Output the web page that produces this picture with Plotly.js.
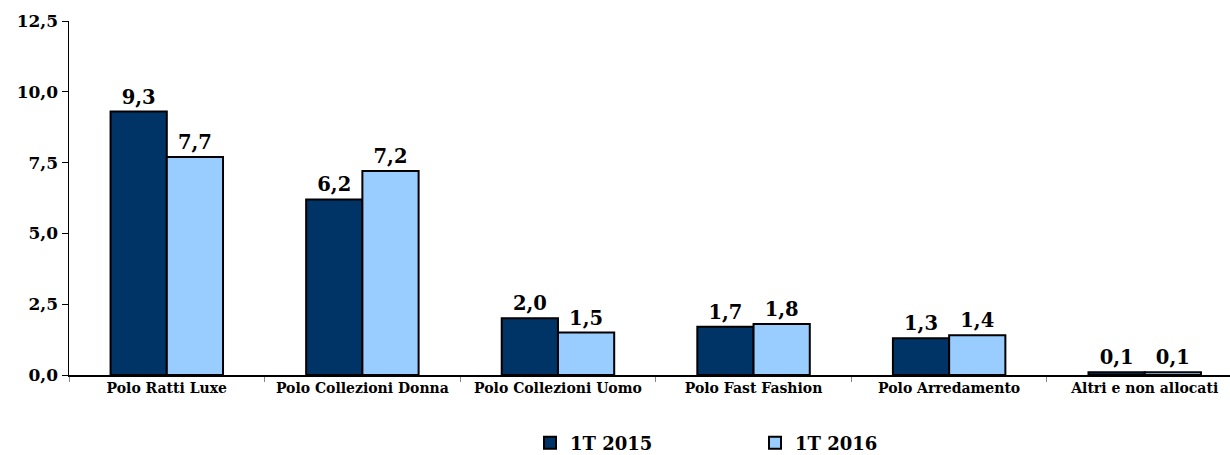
<!DOCTYPE html>
<html>
<head>
<meta charset="utf-8">
<script src="https://cdn.plot.ly/plotly-3.0.1.min.js"></script>
<style>html,body{margin:0;padding:0;background:#fff;}#chart{width:1230px;height:455px;}</style>
</head>
<body>
<div id="chart"></div>
<script>
const categories = ["Polo Ratti Luxe", "Polo Collezioni Donna", "Polo Collezioni Uomo", "Polo Fast Fashion", "Polo Arredamento", "Altri e non allocati"];
const values2015 = [9.3, 6.2, 2.0, 1.7, 1.3, 0.1];
const values2016 = [7.7, 7.2, 1.5, 1.8, 1.4, 0.1];
const seriesNames = ["1T 2015", "1T 2016"];
const yTicks = [0, 2.5, 5, 7.5, 10, 12.5];

const FONT = "DejaVu Serif, Liberation Serif, serif";

function barTrace(name, vals, color) {
  return {
    type: "bar",
    name: name,
    x: categories,
    y: vals,
    marker: {color: color, line: {color: "#000", width: 2}},
    texttemplate: "%{y:.1f}",
    textposition: "outside",
    cliponaxis: false,
    textfont: {family: FONT, size: 19.5, color: "#000", weight: "bold"},
    hoverinfo: "none"
  };
}

const data = [
  barTrace(seriesNames[0], values2015, "#003366"),
  barTrace(seriesNames[1], values2016, "#99CCFF")
];

const layout = {
  width: 1230,
  height: 455,
  separators: ",.",
  margin: {l: 69, r: 0, t: 21, b: 80},
  paper_bgcolor: "#fff",
  plot_bgcolor: "#fff",
  barmode: "group",
  bargap: 0.425,
  bargroupgap: 0,
  showlegend: true,
  font: {family: FONT, color: "#000"},
  xaxis: {
    range: [-0.5, 5.436],
    showline: true,
    linecolor: "#000",
    linewidth: 1.5,
    ticks: "outside",
    tickson: "boundaries",
    ticklen: 5,
    tickcolor: "#888",
    tickfont: {family: FONT, size: 14, color: "#000", weight: "bold"},
    showgrid: false,
    zeroline: false,
    fixedrange: true
  },
  yaxis: {
    range: [0, 12.5],
    tickvals: yTicks,
    tickformat: ".1f",
    showline: true,
    linecolor: "#000",
    linewidth: 1.5,
    ticks: "outside",
    ticklen: 6,
    tickcolor: "#000",
    tickfont: {family: FONT, size: 17, color: "#000", weight: "bold"},
    showgrid: false,
    zeroline: false,
    fixedrange: true
  },
  legend: {
    orientation: "h",
    xref: "container",
    yref: "container",
    x: 530 / 1230,
    xanchor: "left",
    y: 1 - 443 / 455,
    yanchor: "middle",
    entrywidth: 180,
    itemwidth: 30,
    font: {family: FONT, size: 18, color: "#000", weight: "bold"},
    bgcolor: "rgba(0,0,0,0)"
  }
};

Plotly.newPlot("chart", data, layout, {displayModeBar: false, staticPlot: true});
</script>
</body>
</html>
